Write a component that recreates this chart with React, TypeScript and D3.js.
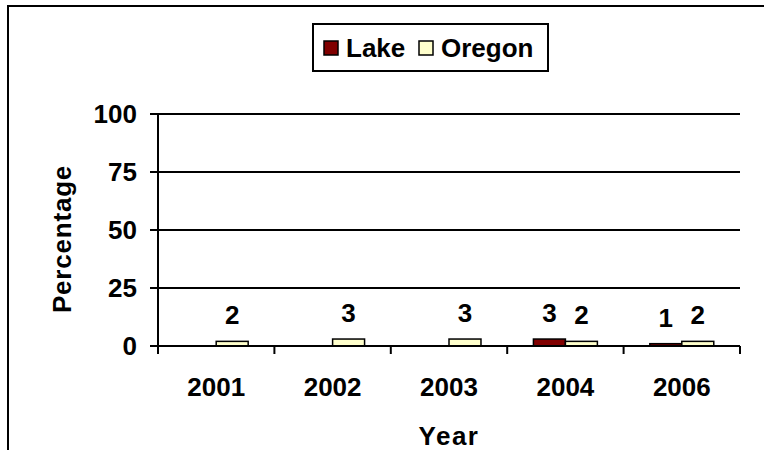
import { FC, useRef, useEffect } from 'react'
import * as d3 from 'd3'

const years = ['2001', '2002', '2003', '2004', '2006']
const seriesNames = ['Lake', 'Oregon']
const lakeValues: (number | null)[] = [null, null, null, 3, 1]
const oregonValues: (number | null)[] = [2, 3, 3, 2, 2]
const yTicks = [0, 25, 50, 75, 100]
const seriesColors = ['#800000', '#ffffcc']

const FONT = '"Liberation Sans", Arial, sans-serif'

const App: FC = () => {
  const svgRef = useRef<SVGSVGElement>(null)

  useEffect(() => {
    if (!svgRef.current) return
    const svg = d3.select(svgRef.current)
    svg.selectAll('*').remove()

    const width = 764
    const height = 450
    svg.attr('width', width).attr('height', height)

    // outer frame (only top and left edges show in the crop)
    svg.append('path')
      .attr('d', `M8,${height + 5} L8,6 L${width + 5},6`)
      .attr('fill', 'none')
      .attr('stroke', '#000')
      .attr('stroke-width', 2)

    const left = 158
    const right = 740
    const top = 114
    const bottom = 346

    const x = d3.scaleBand<string>().domain(years).range([left, right]).padding(0)
    const xInner = d3.scaleBand<string>()
      .domain(seriesNames)
      .range([0, x.bandwidth()])
      .paddingInner(0)
      .paddingOuter(0.82)
    const y = d3.scaleLinear().domain([0, 100]).range([bottom, top])

    const values = [lakeValues, oregonValues]

    // gridlines
    svg.append('g')
      .selectAll('line')
      .data(yTicks.filter(t => t > 0))
      .join('line')
      .attr('x1', left)
      .attr('x2', right)
      .attr('y1', d => y(d))
      .attr('y2', d => y(d))
      .attr('stroke', '#000')
      .attr('stroke-width', 2)

    const text = (g: d3.Selection<any, any, any, any>) =>
      g.attr('font-family', FONT)
        .attr('font-weight', 'bold')
        .attr('font-size', '26px')
        .attr('fill', '#000')

    // y axis
    svg.append('line')
      .attr('x1', left).attr('x2', left)
      .attr('y1', y(100)).attr('y2', bottom)
      .attr('stroke', '#000').attr('stroke-width', 2)

    const yt = svg.append('g')
    yt.selectAll('line')
      .data(yTicks)
      .join('line')
      .attr('x1', left - 8).attr('x2', left)
      .attr('y1', d => y(d)).attr('y2', d => y(d))
      .attr('stroke', '#000').attr('stroke-width', 2)
    yt.selectAll('text')
      .data(yTicks)
      .join('text')
      .call(text)
      .attr('x', left - 21)
      .attr('y', d => y(d) + 9)
      .attr('text-anchor', 'end')
      .text(d => d)

    // bars
    seriesNames.forEach((name, si) => {
      const g = svg.append('g')
      const data = years
        .map((yr, i) => ({ yr, v: values[si][i] }))
        .filter(d => d.v !== null) as { yr: string; v: number }[]

      g.selectAll('rect')
        .data(data)
        .join('rect')
        .attr('x', d => (x(d.yr) ?? 0) + (xInner(name) ?? 0))
        .attr('y', d => y(d.v))
        .attr('width', xInner.bandwidth())
        .attr('height', d => bottom - y(d.v))
        .attr('fill', seriesColors[si])
        .attr('stroke', '#000')
        .attr('stroke-width', 1.5)

      g.selectAll('text')
        .data(data)
        .join('text')
        .call(text)
        .attr('x', d => (x(d.yr) ?? 0) + (xInner(name) ?? 0) + xInner.bandwidth() / 2)
        .attr('y', d => y(d.v) - 17)
        .attr('text-anchor', 'middle')
        .text(d => d.v)
    })

    // x axis
    svg.append('line')
      .attr('x1', left).attr('x2', right)
      .attr('y1', bottom).attr('y2', bottom)
      .attr('stroke', '#000').attr('stroke-width', 2)

    const xt = svg.append('g')
    xt.selectAll('line')
      .data([...years.map(d => x(d) ?? 0), right])
      .join('line')
      .attr('x1', d => d).attr('x2', d => d)
      .attr('y1', bottom).attr('y2', bottom + 8)
      .attr('stroke', '#000').attr('stroke-width', 2)
    xt.selectAll('text')
      .data(years)
      .join('text')
      .call(text)
      .attr('x', d => (x(d) ?? 0) + x.bandwidth() / 2)
      .attr('y', 396)
      .attr('text-anchor', 'middle')
      .text(d => d)

    // axis titles
    svg.append('text')
      .call(text)
      .attr('letter-spacing', '0.8px')
      .attr('text-anchor', 'middle')
      .attr('transform', `translate(71, ${(top + bottom) / 2 + 9}) rotate(-90)`)
      .text('Percentage')

    svg.append('text')
      .call(text)
      .attr('letter-spacing', '1.5px')
      .attr('x', (left + right) / 2)
      .attr('y', 445)
      .attr('text-anchor', 'middle')
      .text('Year')

    // legend
    const lg = svg.append('g').attr('transform', 'translate(313, 24)')
    lg.append('rect')
      .attr('width', 235).attr('height', 47)
      .attr('fill', '#fff').attr('stroke', '#000').attr('stroke-width', 2)
    const legendX = [11, 106]
    seriesNames.forEach((name, i) => {
      lg.append('rect')
        .attr('x', legendX[i]).attr('y', 17)
        .attr('width', 14).attr('height', 14)
        .attr('fill', seriesColors[i])
        .attr('stroke', '#000').attr('stroke-width', 1.5)
      lg.append('text')
        .call(text)
        .attr('x', legendX[i] + 22)
        .attr('y', 33)
        .text(name)
    })
  }, [])

  return (
    <div style={{ position: 'absolute', left: 0, top: 0 }}>
      <svg ref={svgRef} style={{ display: 'block' }} />
    </div>
  )
}

export default App
